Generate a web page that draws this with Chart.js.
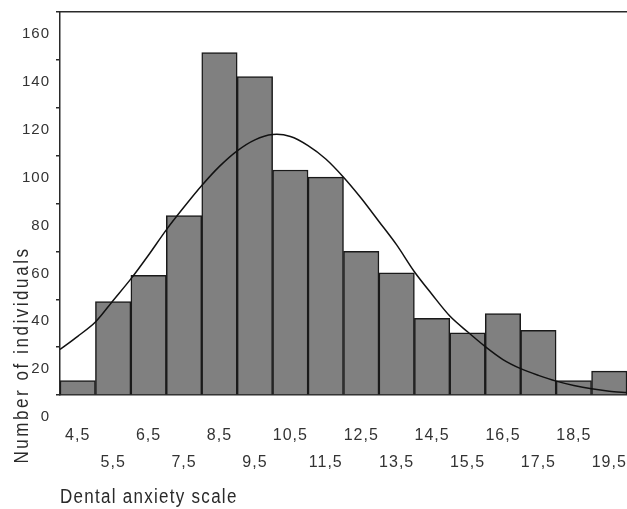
<!DOCTYPE html>
<html>
<head>
<meta charset="utf-8">
<script src="https://cdn.jsdelivr.net/npm/chart.js@4.4.1/dist/chart.umd.min.js"></script>
<style>
	body { margin: 0; background: #fff; }
	#wrap { width: 627px; height: 509px; }
</style>
</head>
<body>
<div id="wrap"><canvas id="mychart" width="627" height="509"></canvas></div>
<script>
// histogram classes (midpoints) and counts
var classes = ['4,5', '5,5', '6,5', '7,5', '8,5', '9,5', '10,5', '11,5', '12,5', '13,5', '14,5', '15,5', '16,5', '17,5', '18,5', '19,5'];
var counts = [6, 39, 50, 75, 143, 133, 94, 91, 60, 51, 32, 26, 34, 27, 6, 10];

// fitted normal curve
var curveX = [4, 4.5, 5, 5.5, 6, 6.5, 7, 7.5, 8, 8.5, 9, 9.5, 10, 10.5, 11, 11.5, 12, 12.5, 13, 13.5, 14, 14.5, 15, 15.5, 16, 16.5, 17, 17.5, 18, 18.5, 19, 19.5, 20];
var curveY = [19, 24.5, 30.5, 39.5, 48.5, 58.5, 69, 78.5, 87.5, 95.5, 102, 106.6, 108.8, 108, 104.2, 98.6, 91, 82.2, 72.5, 62.7, 51.5, 42, 33, 26.4, 20.2, 14.8, 11, 8.2, 5.8, 4, 2.6, 1.6, 1];

var yTicks = [0, 20, 40, 60, 80, 100, 120, 140, 160];

var xTitle = 'Dental anxiety scale';
var yTitle = 'Number of individuals';

var fontFam = '"Liberation Sans", Arial, sans-serif';
var ink = '#2a2a2a';

// staggered labels: every second one goes on the lower row
var tickLabels = classes.map(function (c, i) {
	return i % 2 === 0 ? [c] : ['', c];
});

var curvePts = curveX.map(function (x, i) {
	return { x: x, y: curveY[i] };
});

var spacing = {
	id: 'spacing',
	beforeDraw: function (chart) {
		chart.ctx.letterSpacing = '1px';
	},
	afterDraw: function (chart) {
		var ctx = chart.ctx;
		ctx.save();
		ctx.fillStyle = ink;
		ctx.font = '20px ' + fontFam;
		ctx.textBaseline = 'alphabetic';
		// x title, squeezed a bit like the narrow face of the original
		ctx.save();
		ctx.letterSpacing = '1.5px';
		ctx.translate(60, 503);
		ctx.scale(0.85, 1);
		ctx.textAlign = 'left';
		ctx.fillText(xTitle, 0, 0);
		ctx.restore();
		// y title
		ctx.letterSpacing = '3px';
		ctx.translate(28, 355);
		ctx.rotate(-Math.PI / 2);
		ctx.scale(0.85, 1);
		ctx.textAlign = 'center';
		ctx.fillText(yTitle, 0, 0);
		ctx.restore();
	}
};

var ctx = document.getElementById('mychart').getContext('2d');
var myChart = new Chart(ctx, {
	data: {
		labels: tickLabels,
		datasets: [{
			type: 'line',
			data: curvePts,
			xAxisID: 'x2',
			borderColor: '#111',
			borderWidth: 1.5,
			pointRadius: 0,
			tension: 0.3,
			fill: false
		}, {
			type: 'bar',
			data: counts,
			xAxisID: 'x',
			grouped: false,
			backgroundColor: '#808080',
			borderColor: '#1a1a1a',
			borderWidth: 1.5,
			barPercentage: 1,
			categoryPercentage: 1
		}]
	},
	options: {
		responsive: false,
		animation: false,
		layout: { padding: 0 },
		plugins: {
			legend: { display: false },
			tooltip: { enabled: false }
		},
		scales: {
			x: {
				type: 'category',
				position: 'bottom',
				grid: { display: false },
				border: { display: true, color: ink, width: 1.5 },
				ticks: {
					color: '#333',
					font: { family: fontFam, size: 16, lineHeight: '27px' },
					padding: 19,
					maxRotation: 0,
					autoSkip: false
				},
				afterFit: function (scale) {
					scale.height = 114;
					scale.paddingLeft = 0;
					scale.paddingRight = 0;
				}
			},
			x2: {
				type: 'linear',
				position: 'top',
				min: 4,
				max: 20,
				grid: { display: false },
				border: { display: true, color: ink, width: 1.5 },
				ticks: { display: false },
				afterFit: function (scale) {
					scale.height = 12;
					scale.paddingLeft = 0;
					scale.paddingRight = 0;
				}
			},
			y: {
				min: 0,
				max: 160,
				afterBuildTicks: function (scale) {
					scale.ticks = yTicks.map(function (v) { return { value: v }; });
				},
				grid: {
					drawOnChartArea: false,
					drawTicks: true,
					tickLength: 4,
					color: ink,
					lineWidth: 1.5
				},
				border: { display: true, color: ink, width: 1.5 },
				ticks: {
					color: '#333',
					font: { family: fontFam, size: 15 },
					padding: 6,
					labelOffset: 22
				},
				afterFit: function (scale) {
					scale.width = 60;
					scale.paddingTop = 0;
					scale.paddingBottom = 0;
				}
			}
		}
	},
	plugins: [spacing]
});
</script>
</body>
</html>
